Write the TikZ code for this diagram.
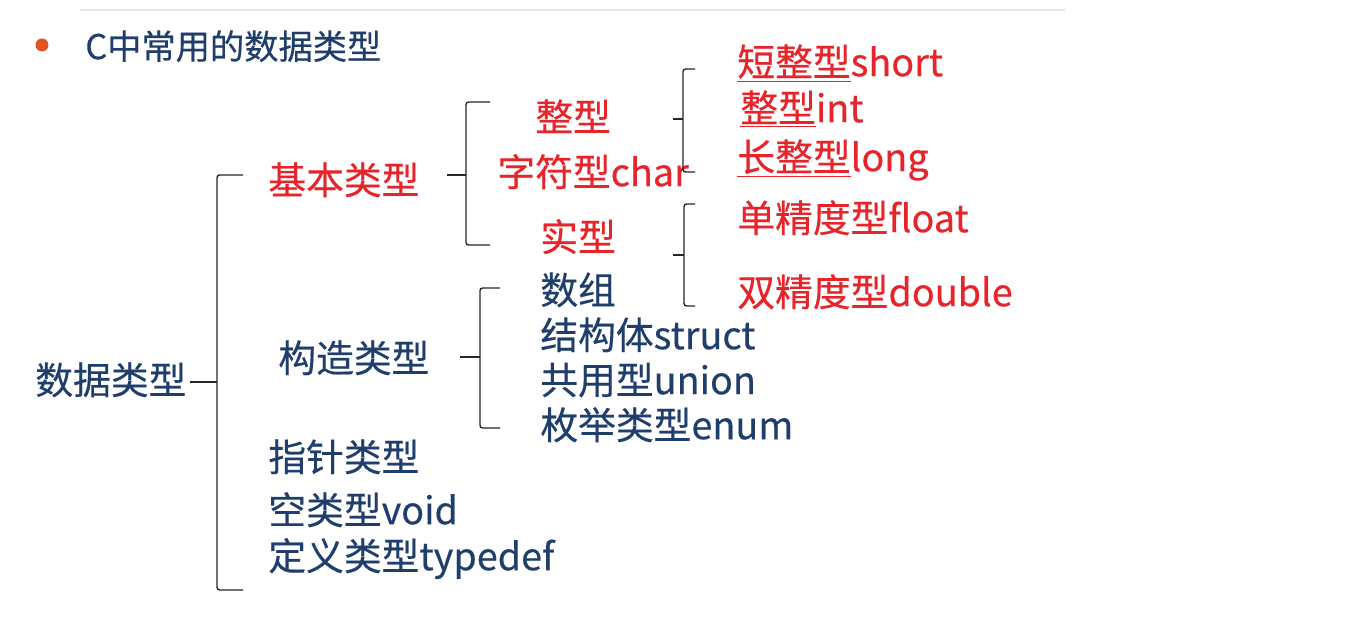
\documentclass[tikz,border=0pt]{standalone}
\usepackage{fontspec}
\setmainfont{Noto Sans CJK SC}[FakeBold=0.4]
\usepackage{xcolor}
\usepackage{tikz}
\usetikzlibrary{positioning}
\definecolor{typeblue}{RGB}{32,62,108}
\definecolor{typered}{RGB}{230,36,42}
\definecolor{dotorange}{RGB}{228,84,34}
\tikzset{
  typetext/.style={
    anchor=west,
    inner sep=0pt,
    yshift=-0.15cm,
    text height=0.88em,
    text depth=0.12em,
    font=\fontsize{21.5pt}{26pt}\selectfont
  },
  bluetext/.style={
    typetext,
    text=typeblue
  },
  redtext/.style={
    typetext,
    text=typered
  },
  titletext/.style={
    bluetext,
    font=\fontsize{19.5pt}{24pt}\selectfont
  },
  bracketline/.style={
    draw=black!85,
    line width=0.8pt,
    rounded corners=1.5pt
  }
}

\begin{document}
\begin{tikzpicture}[x=0.02cm,y=-0.02cm]
  \useasboundingbox[fill=white] (0,0) rectangle (1368,634);
  \draw[black!10, line width=1.2pt] (80,10) -- (1065,10);
  \node[circle, fill=dotorange, minimum size=0.26cm, inner sep=0pt] (dot) at (42,45) {};
  \node[titletext] (title) at (85,45) {C中常用的数据类型};

  \node[bluetext] (types) at (35,380) {数据类型};
  \node[redtext]  (basic)    at (268,180) {基本类型};
  \node[bluetext] (compound) at (278,358) {构造类型};
  \node[bluetext] (pointer)  at (268,457) {指针类型};
  \node[bluetext] (void)     at (268,510) {空类型void};
  \node[bluetext] (typedef)  at (268,556) {定义类型typedef};

  \node[redtext] (integer) at (535,117) {整型};
  \node[redtext] (char)    at (497,172) {字符型char};
  \node[redtext] (real)    at (540,237) {实型};

  \node[redtext] (short)  at (737,62)  {\underline{短整型}short};
  \node[redtext] (int)    at (740,108) {\underline{整型}int};
  \node[redtext] (long)   at (737,157) {\underline{长整型}long};
  \node[redtext] (float)  at (737,218) {单精度型float};
  \node[redtext] (double) at (737,292) {双精度型double};

  \node[bluetext] (array)     at (540,290) {数组};
  \node[bluetext] (structure) at (540,335) {结构体struct};
  \node[bluetext] (union)     at (540,380) {共用型union};
  \node[bluetext] (enum)      at (540,425) {枚举类型enum};

  \draw[bracketline] (190,382) -- (217,382);
  \draw[bracketline] (243,175) -- (217,175) -- (217,590) -- (243,590);

  \draw[bracketline] (447,175) -- (466,175);
  \draw[bracketline] (490,102) -- (466,102) -- (466,245) -- (490,245);

  \draw[bracketline] (673,119) -- (683,119);
  \draw[bracketline] (695,69) -- (683,69) -- (683,172) -- (695,172);

  \draw[bracketline] (673,255) -- (684,255);
  \draw[bracketline] (695,204) -- (684,204) -- (684,306) -- (695,306);

  \draw[bracketline] (460,357) -- (480,357);
  \draw[bracketline] (500,288) -- (480,288) -- (480,428) -- (500,428);
\end{tikzpicture}
\end{document}
